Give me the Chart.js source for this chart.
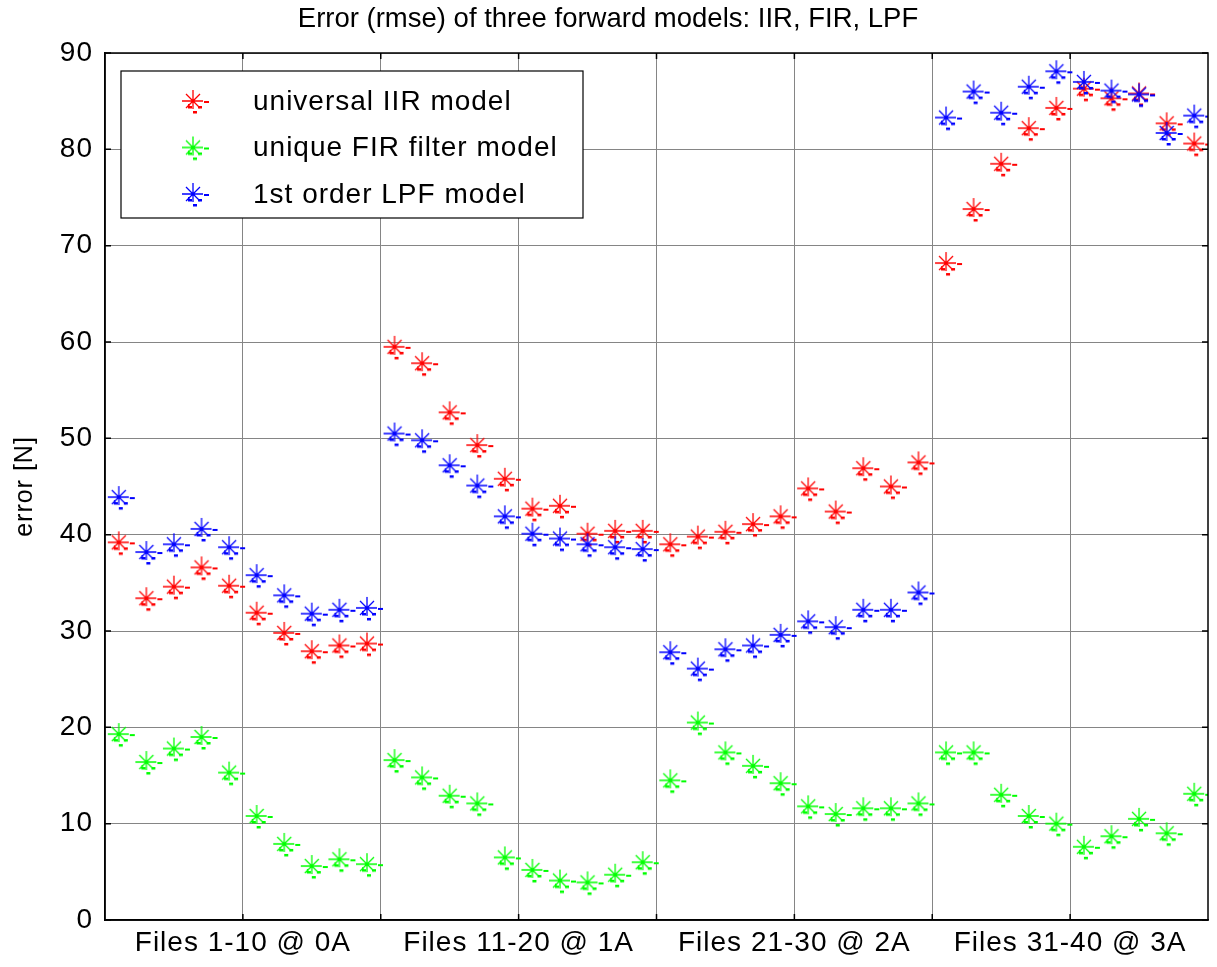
<!DOCTYPE html>
<html>
<head>
<meta charset="utf-8">
<script src="https://cdn.jsdelivr.net/npm/chart.js@4.4.1/dist/chart.umd.min.js"></script>
<style>
    html, body { margin: 0; padding: 0; background: #fff; }
    #wrap { width: 1217px; height: 967px; }
</style>
</head>
<body>
<div id="wrap"><canvas id="rmse-chart" width="1217" height="967"></canvas></div>
<script>
// file numbers 1..40
const files = [1,2,3,4,5,6,7,8,9,10,11,12,13,14,15,16,17,18,19,20,
               21,22,23,24,25,26,27,28,29,30,31,32,33,34,35,36,37,38,39,40];

const iirErr = [39.2, 33.4, 34.6, 36.6, 34.7, 31.9, 29.8, 27.9, 28.5, 28.7,
                59.5, 57.8, 52.7, 49.3, 45.8, 42.7, 43.0, 40.1, 40.4, 40.4,
                39.0, 39.8, 40.3, 41.1, 41.9, 44.8, 42.4, 46.9, 45.0, 47.5,
                68.2, 73.8, 78.5, 82.2, 84.3, 86.3, 85.3, 85.8, 82.7, 80.6];

const firErr = [19.3, 16.4, 17.8, 19.0, 15.3, 10.8,  7.9,  5.6,  6.3,  5.8,
                16.6, 14.8, 12.9, 12.1,  6.5,  5.2,  4.1,  3.9,  4.7,  6.0,
                14.5, 20.5, 17.4, 16.0, 14.2, 11.8, 11.0, 11.6, 11.6, 12.1,
                17.4, 17.4, 13.0, 10.8, 10.0,  7.6,  8.7, 10.5,  9.0, 13.1];

const lpfErr = [43.9, 38.2, 39.0, 40.6, 38.7, 35.8, 33.7, 31.8, 32.2, 32.4,
                50.5, 49.8, 47.2, 45.1, 41.9, 40.1, 39.6, 39.0, 38.7, 38.5,
                27.8, 26.1, 28.1, 28.5, 29.6, 31.0, 30.4, 32.2, 32.2, 34.0,
                83.3, 86.0, 83.8, 86.5, 88.1, 87.0, 86.1, 85.7, 81.7, 83.5];

const seriesLabels = ['universal IIR model', 'unique FIR filter model', '1st order LPF model'];
const seriesColors = ['#ff0000', '#00ff00', '#0000ff'];

const xGridPos    = [5.5, 10.5, 15.5, 20.5, 25.5, 30.5, 35.5];
const xLabelPos   = [5.5, 15.5, 25.5, 35.5];
const xTickLabels = ['Files 1-10 @ 0A', 'Files 11-20 @ 1A', 'Files 21-30 @ 2A', 'Files 31-40 @ 3A'];

const FONT = '"Liberation Sans", Arial, sans-serif';

// matlab-ish '*' marker with the odd little dashes
function makeMarker(color) {
    const c = document.createElement('canvas');
    c.width = 46; c.height = 46;
    const g = c.getContext('2d');
    const m = 23;
    g.strokeStyle = color;
    g.fillStyle = color;
    g.lineWidth = 1.3;
    g.beginPath();
    g.moveTo(m - 11, m); g.lineTo(m + 10, m);
    g.moveTo(m, m - 11); g.lineTo(m, m + 8);
    g.moveTo(m - 7, m - 7); g.lineTo(m + 7, m + 7);
    g.moveTo(m - 7, m + 7); g.lineTo(m + 7, m - 7);
    g.stroke();
    g.fillRect(m + 11, m, 5, 2);
    g.fillRect(m - 5, m + 5, 4, 2.5);
    g.fillRect(m + 5, m + 5, 4, 2.5);
    g.fillRect(m, m + 10, 4, 2.5);
    g.fillRect(m - 5, m + 3, 1.5, 4);
    return c;
}

function toPoints(vals) {
    return vals.map((v, i) => ({ x: files[i], y: v }));
}

const frameAndLegend = {
    id: 'frameAndLegend',
    beforeDraw(chart) {
        // canvas resize wipes context state, so set spacing here
        chart.ctx.letterSpacing = '1px';
    },
    afterDraw(chart) {
        const { ctx, chartArea: a, scales } = chart;
        ctx.save();

        // box + inward ticks
        ctx.strokeStyle = '#000';
        ctx.lineWidth = 1.5;
        ctx.strokeRect(a.left, a.top, a.right - a.left, a.bottom - a.top);
        ctx.beginPath();
        for (const v of xGridPos) {
            const px = scales.x.getPixelForValue(v);
            ctx.moveTo(px, a.bottom); ctx.lineTo(px, a.bottom - 6);
            ctx.moveTo(px, a.top);    ctx.lineTo(px, a.top + 6);
        }
        for (const t of scales.y.ticks) {
            const py = scales.y.getPixelForValue(t.value);
            ctx.moveTo(a.left, py);  ctx.lineTo(a.left + 6, py);
            ctx.moveTo(a.right, py); ctx.lineTo(a.right - 6, py);
        }
        ctx.stroke();

        // title
        ctx.letterSpacing = '0px';
        ctx.fillStyle = '#000';
        ctx.font = '27.5px ' + FONT;
        ctx.textAlign = 'center';
        ctx.textBaseline = 'middle';
        ctx.fillText('Error (rmse) of three forward models: IIR, FIR, LPF', 608, 19);

        // legend box inside the plot
        const lx = a.left + 16, ly = a.top + 18, lw = 462, lh = 147;
        ctx.fillStyle = '#fff';
        ctx.fillRect(lx, ly, lw, lh);
        ctx.strokeStyle = '#000';
        ctx.lineWidth = 1.2;
        ctx.strokeRect(lx, ly, lw, lh);

        ctx.font = '28px ' + FONT;
        ctx.letterSpacing = '1px';
        ctx.textAlign = 'left';
        chart.data.datasets.forEach((ds, i) => {
            const cy = ly + 30 + i * 46.5;
            const img = ds.pointStyle;
            ctx.drawImage(img, lx + 72 - img.width / 2, cy - img.height / 2);
            ctx.fillStyle = '#000';
            ctx.fillText(ds.label, lx + 132, cy + 1);
        });
        ctx.restore();
    }
};

const canvas = document.getElementById('rmse-chart');
const ctx = canvas.getContext('2d');

new Chart(ctx, {
    type: 'scatter',
    data: {
        datasets: [iirErr, firErr, lpfErr].map((vals, i) => ({
            label: seriesLabels[i],
            data: toPoints(vals),
            pointStyle: makeMarker(seriesColors[i]),
            borderColor: seriesColors[i],
            backgroundColor: seriesColors[i],
            showLine: false,
            order: 3 - i,
        })),
    },
    options: {
        responsive: false,
        animation: false,
        devicePixelRatio: 1,
        layout: { padding: { top: 53, right: 9, left: 0, bottom: 0 } },
        plugins: {
            legend: { display: false },
            title: { display: false },
            tooltip: { enabled: false },
        },
        scales: {
            x: {
                type: 'linear',
                min: 0.5,
                max: 40.5,
                afterBuildTicks: s => { s.ticks = xGridPos.map(v => ({ value: v })); },
                afterFit: s => { s.height = 47; },
                ticks: {
                    autoSkip: false,
                    maxRotation: 0,
                    padding: 6,
                    color: '#000',
                    font: { family: FONT, size: 28 },
                    callback: v => {
                        const k = xLabelPos.indexOf(v);
                        return k >= 0 ? xTickLabels[k] : '';
                    },
                },
                grid: { color: '#858585', lineWidth: 1, drawTicks: false },
                border: { color: '#000', width: 1.5 },
            },
            y: {
                min: 0,
                max: 90,
                afterFit: s => { s.width = 105; },
                ticks: {
                    stepSize: 10,
                    padding: 12,
                    color: '#000',
                    font: { family: FONT, size: 28 },
                },
                title: {
                    display: true,
                    text: 'error [N]',
                    color: '#000',
                    font: { family: FONT, size: 25 },
                    padding: { top: 10, bottom: 4 },
                },
                grid: { color: '#858585', lineWidth: 1, drawTicks: false },
                border: { color: '#000', width: 1.5 },
            },
        },
    },
    plugins: [frameAndLegend],
});
</script>
</body>
</html>
